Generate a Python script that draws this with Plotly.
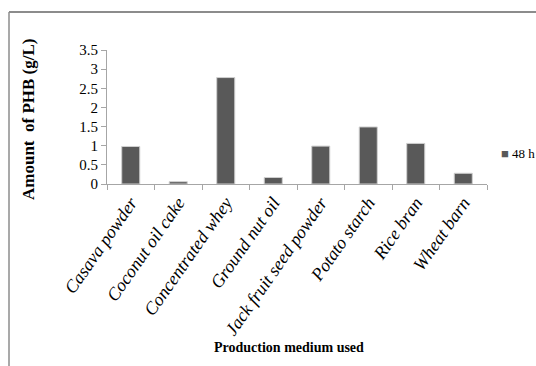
import plotly.graph_objects as go

categories = ["Casava powder", "Coconut oil cake", "Concentrated whey", "Ground nut oil",
              "Jack fruit seed powder", "Potato starch", "Rice bran", "Wheat barn"]
phb_48h = [0.98, 0.06, 2.78, 0.17, 0.99, 1.49, 1.06, 0.28]
y_ticks = [0, 0.5, 1, 1.5, 2, 2.5, 3, 3.5]
y_ticklabels = ["0", "0.5", "1", "1.5", "2", "2.5", "3", "3.5"]
series_name = "48 h"

W, H = 536, 366
PLOT_X0, PLOT_X1, PLOT_Y0, PLOT_Y1 = 107, 487, 50, 184  # page pixels
L, T = PLOT_X0, PLOT_Y0
pw, ph = PLOT_X1 - PLOT_X0, PLOT_Y1 - PLOT_Y0
R, B = W - L - pw, H - T - ph

def px(x):
    return (x - PLOT_X0) / pw

def py(y):
    return (PLOT_Y1 - y) / ph

serif = "Liberation Serif, Times New Roman, serif"
bar_color = "#595959"
axis_color = "#a6a6a6"

fig = go.Figure()
fig.add_trace(go.Bar(
    x=categories, y=phb_48h, name=series_name, width=0.38,
    marker=dict(color=bar_color, line=dict(color="#d0d0d0", width=1)),
    showlegend=False,
))

fig.update_layout(
    width=W, height=H,
    margin=dict(l=L, r=R, t=T, b=B, autoexpand=False),
    paper_bgcolor="white", plot_bgcolor="white",
    font=dict(family=serif, color="black"),
    xaxis=dict(
        showline=True, linecolor=axis_color, linewidth=1,
        ticks="outside", tickson="boundaries", ticklen=5, tickcolor=axis_color,
        tickangle=-55, tickfont=dict(family=serif, size=18, style="italic", color="black"),
        showgrid=False,
    ),
    yaxis=dict(
        range=[0, 3.5], tickvals=y_ticks, ticktext=y_ticklabels,
        showline=True, linecolor=axis_color, linewidth=1,
        ticks="outside", ticklen=5, tickcolor=axis_color,
        tickfont=dict(family=serif, size=15, color="black"),
        showgrid=False, zeroline=False,
    ),
    shapes=[
        dict(type="line", xref="paper", yref="paper",
             x0=px(9), x1=px(545), y0=py(12), y1=py(12),
             line=dict(color="#8c8c8c", width=2)),
        dict(type="line", xref="paper", yref="paper",
             x0=px(9), x1=px(9), y0=py(12), y1=py(375),
             line=dict(color="#8c8c8c", width=1.5)),
    ],
    annotations=[
        dict(text="<b>Amount  of PHB (g/L)</b>", textangle=-90,
             xref="paper", yref="paper", x=px(28), y=py(119),
             xanchor="center", yanchor="middle", showarrow=False,
             font=dict(family=serif, size=17, color="black")),
        dict(text="<b>Production medium used</b>",
             xref="paper", yref="paper", x=px(289), y=py(347),
             xanchor="center", yanchor="middle", showarrow=False,
             font=dict(family=serif, size=14, color="black")),
        dict(text="<span style='color:%s'>■</span> %s" % (bar_color, series_name),
             xref="paper", yref="paper", x=px(499), y=py(153),
             xanchor="left", yanchor="middle", showarrow=False,
             font=dict(family=serif, size=13, color="black")),
    ],
)

fig.write_html(
    "out.html",
    config={"displayModeBar": False},
    post_script="document.body.style.margin='0';document.body.style.overflow='hidden';",
)
